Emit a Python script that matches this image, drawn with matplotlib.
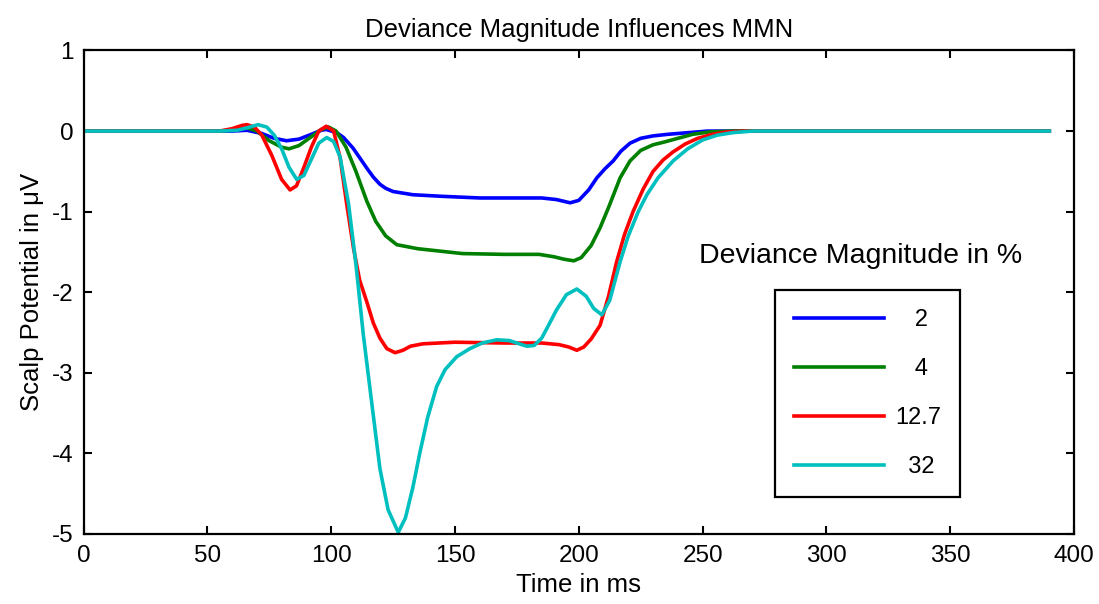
import matplotlib
matplotlib.use("Agg")
import matplotlib.pyplot as plt

plt.rcParams['font.family'] = ['Liberation Sans', 'DejaVu Sans']
plt.rcParams['axes.unicode_minus'] = False

# deviance magnitude 2 %
t_2 = [0, 40, 55, 60, 66, 72, 77, 82, 87, 92, 96, 98, 102.3, 105, 108.8, 111.5,
       114.4, 117, 119.7, 122, 125, 133, 145, 160, 175, 185, 191, 196.5, 200, 204,
       207.3, 210.5, 213.9, 217, 220.7, 225, 230, 236, 244, 252, 270, 390]
v_2 = [0, 0, 0, 0, 0.01, -0.03, -0.09, -0.12, -0.1, -0.04, 0.01, 0.02, -0.02, -0.08,
       -0.21, -0.33, -0.46, -0.57, -0.66, -0.71, -0.75, -0.79, -0.81, -0.83, -0.83,
       -0.83, -0.85, -0.89, -0.86, -0.73, -0.58, -0.47, -0.37, -0.25, -0.15, -0.09,
       -0.06, -0.04, -0.02, 0, 0, 0]

# deviance magnitude 4 %
t_4 = [0, 40, 55, 62, 66, 70, 75, 80, 83, 87, 92, 96, 99, 102, 106, 110, 114.4, 118,
       122, 126.5, 135, 153, 170, 184, 190, 194, 198, 201, 205, 208.6, 212, 216.7,
       220.7, 225, 230, 234, 240, 246, 253, 262, 390]
v_4 = [0, 0, 0, 0.02, 0.04, 0.0, -0.12, -0.2, -0.22, -0.18, -0.07, 0.02, 0.05, 0.0,
       -0.2, -0.5, -0.87, -1.12, -1.3, -1.41, -1.46, -1.52, -1.53, -1.53, -1.56, -1.59,
       -1.61, -1.57, -1.42, -1.2, -0.95, -0.58, -0.37, -0.24, -0.17, -0.14, -0.09,
       -0.04, -0.01, 0, 0]

# deviance magnitude 12.7 %
t_127 = [0, 40, 55, 60, 64, 66, 69, 72, 76, 80, 83.4, 86, 89, 92, 95, 98, 101, 103.6,
         106.3, 109, 111.5, 114.4, 117, 119.7, 122.5, 125.8, 129, 132, 137, 150, 170,
         185, 192, 196, 199.2, 202, 205, 208.6, 212, 215.3, 218.5, 221.9, 226, 230,
         234, 238, 243, 248, 254, 260, 268, 390]
v_127 = [0, 0, 0, 0.03, 0.07, 0.08, 0.05, -0.05, -0.3, -0.6, -0.73, -0.68, -0.45, -0.2,
         0.0, 0.06, 0.0, -0.33, -0.91, -1.45, -1.85, -2.12, -2.38, -2.57, -2.7, -2.75,
         -2.72, -2.67, -2.64, -2.62, -2.63, -2.63, -2.65, -2.68, -2.72, -2.68, -2.58,
         -2.41, -2.05, -1.62, -1.28, -1.0, -0.72, -0.5, -0.36, -0.26, -0.16, -0.09,
         -0.04, -0.01, 0, 0]

# deviance magnitude 32 %
t_32 = [0, 40, 55, 62, 66, 70.5, 74, 77, 80, 83, 86.1, 89, 92, 95, 98.2, 101, 103.6,
        107, 110, 113, 116.5, 119.7, 123, 127.1, 130, 133, 135.9, 139, 142.6, 146,
        150.7, 156, 161, 166.9, 172, 176, 179, 182, 185, 187.1, 191, 195, 199.2, 203,
        206, 209.3, 212.5, 216.7, 220, 224, 227.5, 232, 238.1, 244, 250, 256, 262,
        270, 390]
v_32 = [0, 0, 0, 0.01, 0.04, 0.08, 0.05, -0.05, -0.22, -0.45, -0.6, -0.55, -0.35, -0.15,
        -0.08, -0.13, -0.32, -0.9, -1.65, -2.53, -3.4, -4.19, -4.7, -4.98, -4.8, -4.42,
        -3.98, -3.55, -3.17, -2.96, -2.8, -2.7, -2.63, -2.59, -2.6, -2.64, -2.67, -2.66,
        -2.57, -2.45, -2.22, -2.03, -1.96, -2.05, -2.2, -2.28, -2.1, -1.62, -1.3, -1.0,
        -0.79, -0.58, -0.37, -0.22, -0.11, -0.05, -0.02, 0, 0]

labels = ['   2', '   4', '12.7', '  32']
colors = ['#0000ff', '#008000', '#ff0000', '#00bfbf']

fig = plt.figure(figsize=(10.99, 6.04), dpi=100)
ax = fig.add_axes([0.076, 0.1159, 0.9013, 0.8005])

series = [(t_2, v_2), (t_4, v_4), (t_127, v_127), (t_32, v_32)]
for (t, v), lab, c in zip(series, labels, colors):
    ax.plot(t, v, color=c, lw=2.6, label=lab, solid_joinstyle='round')

ax.set_xlim(0, 400)
ax.set_ylim(-5, 1)
ax.set_xticks(range(0, 401, 50))
ax.set_yticks(range(-5, 2))
ax.tick_params(direction='in', length=6, width=1.5, top=True, right=True,
               labelsize=17.5)
ax.tick_params(axis='x', pad=8)
ax.tick_params(axis='y', pad=7)
for s in ax.spines.values():
    s.set_linewidth(1.6)

ax.set_title('Deviance Magnitude Influences MMN', fontsize=18.5, pad=10)
ax.set_xlabel('Time in ms', fontsize=18.5, labelpad=4)
ax.set_ylabel('Scalp Potential in \u03bcV', fontsize=18.5, labelpad=6)

leg = ax.legend(loc='upper left', bbox_to_anchor=(0.698, 0.5047), fontsize=17,
                frameon=True, fancybox=False, edgecolor='black', framealpha=1,
                handlelength=3.8, handletextpad=0.5, labelspacing=1.15,
                borderpad=0.8, borderaxespad=0)
leg.get_frame().set_linewidth(1.6)

ax.text(0.784, 0.575, 'Deviance Magnitude in %', transform=ax.transAxes,
        fontsize=20.5, ha='center', va='center')

fig.savefig('out.png', dpi=100)
